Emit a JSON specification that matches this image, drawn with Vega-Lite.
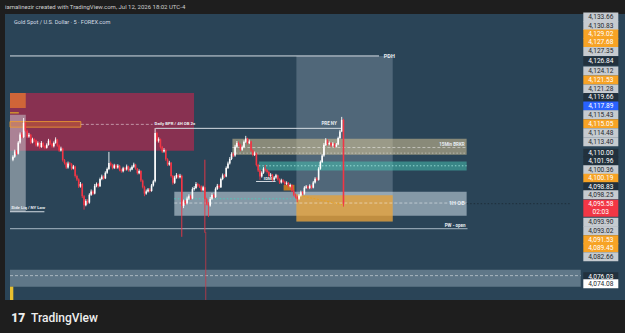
{
  "$schema": "https://vega.github.io/schema/vega-lite/v6.json",
  "width": 620,
  "height": 286,
  "autosize": {"type": "none"},
  "padding": {"left": 5, "top": 14, "right": 0, "bottom": 33},
  "background": "#1e1e1e",
  "title": {"text": "iamalinezir created with TradingView.com, Jul 12, 2026 18:02 UTC-4", "anchor": "start", "fontSize": 6, "font": "Roboto", "fontWeight": "normal", "color": "#cfcfcf", "offset": 3, "frame": "group"},
  "config": {"view": {"fill": "#2a4457", "stroke": null}, "font": "Roboto"},
  "datasets": {
    "boxes": [
      {"k": "band", "i": -1.66, "i2": 319.5, "p": 4073.32, "p2": 4077.88},
      {"k": "pre", "i": 159.5, "i2": 213.7, "p": 4090.83, "p2": 4135.26},
      {"k": "maroon", "i": -1.66, "i2": 101.9, "p": 4109.79, "p2": 4125.34},
      {"k": "lorange", "i": -1.66, "i2": 7.2, "p": 4121.31, "p2": 4125.34},
      {"k": "lgray", "i": -1.66, "i2": 7.2, "p": 4093.43, "p2": 4119.44},
      {"k": "tan", "i": 123.5, "i2": 255.3, "p": 4108.72, "p2": 4113.0},
      {"k": "teal", "i": 138.4, "i2": 255.3, "p": 4104.51, "p2": 4106.92},
      {"k": "ob", "i": 90.8, "i2": 255.3, "p": 4092.36, "p2": 4098.79},
      {"k": "orange", "i": 159.5, "i2": 213.7, "p": 4090.83, "p2": 4097.86},
      {"k": "sorange", "i": 152.3, "i2": 158.4, "p": 4099.14, "p2": 4100.67},
      {"k": "yel", "i": -1.66, "i2": 0.2, "p": 4069.74, "p2": 4073.32}
    ],
    "bpr": [{"i": -1.66, "i2": 38.2, "p": 4116.14, "p2": 4117.64}],
    "lines": [
      {"k": "pdh", "i": -1.66, "i2": 206, "p": 4135.26},
      {"k": "preny", "i": 80.3, "i2": 184.9, "p": 4115.82},
      {"k": "pw", "i": -1.66, "i2": 255.8, "p": 4088.88},
      {"k": "side", "i": -1.66, "i2": 17.7, "p": 4093.43},
      {"k": "idm", "i": 136.8, "i2": 147.8, "p": 4101.56},
      {"k": "yel", "i": -1.66, "i2": 3.3, "p": 4119.98}
    ],
    "dlines": [
      {"k": "tan", "i": 123.5, "i2": 255.3, "p": 4110.67},
      {"k": "ob", "i": 90.8, "i2": 255.3, "p": 4095.77},
      {"k": "bot", "i": -1.66, "i2": 319.5, "p": 4076.28},
      {"k": "bpr", "i": 38.2, "i2": 78.6, "p": 4116.89}
    ],
    "olines": [
      {"k": "tanb", "i": 123.5, "i2": 255.3, "p": 4109.17},
      {"k": "tealm", "i": 138.4, "i2": 255.3, "p": 4105.77},
      {"k": "ext", "i": 255.3, "i2": 313.9, "p": 4095.6},
      {"k": "tealob", "i": 90.8, "i2": 159.5, "p": 4096.92}
    ],
    "diag": [{"i": 159.5, "i2": 185.5, "p": 4097.99, "p2": 4095.31}],
    "vline": [{"i": 108.5, "p": 4088.0, "p2": 4069.74}],
    "bars": [
      {"i":0,"o":4107.4,"h":4108.6,"l":4107.0,"c":4108.2},
      {"i":1,"o":4108.2,"h":4110.1,"l":4107.9,"c":4109.6},
      {"i":2,"o":4109.6,"h":4110.0,"l":4108.6,"c":4109.0},
      {"i":3,"o":4109.0,"h":4112.4,"l":4108.8,"c":4112.0},
      {"i":4,"o":4112.0,"h":4114.7,"l":4111.7,"c":4114.2},
      {"i":5,"o":4114.2,"h":4114.8,"l":4113.1,"c":4113.5},
      {"i":6,"o":4113.5,"h":4118.6,"l":4113.2,"c":4117.3},
      {"i":7,"o":4117.3,"h":4117.6,"l":4114.8,"c":4115.2},
      {"i":8,"o":4115.2,"h":4115.5,"l":4113.2,"c":4113.6},
      {"i":9,"o":4113.6,"h":4114.6,"l":4113.3,"c":4114.1},
      {"i":10,"o":4114.1,"h":4114.3,"l":4111.6,"c":4112.0},
      {"i":11,"o":4112.0,"h":4113.3,"l":4111.8,"c":4112.9},
      {"i":12,"o":4112.9,"h":4113.2,"l":4112.1,"c":4112.6},
      {"i":13,"o":4112.6,"h":4112.8,"l":4110.9,"c":4111.2},
      {"i":14,"o":4111.2,"h":4112.3,"l":4110.9,"c":4111.9},
      {"i":15,"o":4111.9,"h":4112.1,"l":4110.4,"c":4110.8},
      {"i":16,"o":4110.8,"h":4112.4,"l":4110.6,"c":4111.9},
      {"i":17,"o":4111.9,"h":4112.1,"l":4110.7,"c":4111.0},
      {"i":18,"o":4111.0,"h":4111.3,"l":4110.2,"c":4110.6},
      {"i":19,"o":4110.6,"h":4111.8,"l":4110.4,"c":4111.4},
      {"i":20,"o":4111.4,"h":4113.0,"l":4111.2,"c":4112.5},
      {"i":21,"o":4112.5,"h":4112.8,"l":4111.4,"c":4111.7},
      {"i":22,"o":4111.7,"h":4111.9,"l":4110.6,"c":4111.0},
      {"i":23,"o":4111.0,"h":4112.3,"l":4110.7,"c":4111.9},
      {"i":24,"o":4111.9,"h":4113.4,"l":4111.7,"c":4112.8},
      {"i":25,"o":4112.8,"h":4113.0,"l":4110.9,"c":4111.2},
      {"i":26,"o":4111.2,"h":4111.5,"l":4109.5,"c":4109.9},
      {"i":27,"o":4109.9,"h":4110.9,"l":4109.6,"c":4110.4},
      {"i":28,"o":4110.4,"h":4110.6,"l":4106.9,"c":4107.3},
      {"i":29,"o":4107.3,"h":4107.6,"l":4106.1,"c":4106.5},
      {"i":30,"o":4106.5,"h":4106.8,"l":4104.9,"c":4105.3},
      {"i":31,"o":4105.3,"h":4106.9,"l":4105.0,"c":4106.4},
      {"i":32,"o":4106.4,"h":4106.8,"l":4105.8,"c":4106.2},
      {"i":33,"o":4106.2,"h":4106.5,"l":4104.6,"c":4105.0},
      {"i":34,"o":4105.0,"h":4106.0,"l":4104.8,"c":4105.6},
      {"i":35,"o":4105.6,"h":4105.8,"l":4102.6,"c":4103.0},
      {"i":36,"o":4103.0,"h":4103.4,"l":4101.7,"c":4102.1},
      {"i":37,"o":4102.1,"h":4102.4,"l":4099.8,"c":4100.2},
      {"i":38,"o":4100.2,"h":4101.4,"l":4099.9,"c":4100.9},
      {"i":39,"o":4100.9,"h":4101.1,"l":4097.1,"c":4097.6},
      {"i":40,"o":4097.6,"h":4097.9,"l":4094.0,"c":4095.2},
      {"i":41,"o":4095.2,"h":4096.8,"l":4094.9,"c":4096.3},
      {"i":42,"o":4096.3,"h":4096.8,"l":4095.4,"c":4095.9},
      {"i":43,"o":4095.9,"h":4098.4,"l":4095.6,"c":4098.0},
      {"i":44,"o":4098.0,"h":4099.4,"l":4097.7,"c":4098.9},
      {"i":45,"o":4098.9,"h":4099.2,"l":4097.9,"c":4098.3},
      {"i":46,"o":4098.3,"h":4100.9,"l":4098.1,"c":4100.4},
      {"i":47,"o":4100.4,"h":4101.3,"l":4100.0,"c":4100.9},
      {"i":48,"o":4100.9,"h":4101.2,"l":4099.9,"c":4100.3},
      {"i":49,"o":4100.3,"h":4102.6,"l":4100.1,"c":4102.2},
      {"i":50,"o":4102.2,"h":4103.4,"l":4101.9,"c":4102.9},
      {"i":51,"o":4102.9,"h":4103.2,"l":4102.0,"c":4102.4},
      {"i":52,"o":4102.4,"h":4104.3,"l":4102.2,"c":4103.9},
      {"i":53,"o":4103.9,"h":4105.3,"l":4103.6,"c":4104.9},
      {"i":54,"o":4104.9,"h":4109.5,"l":4104.6,"c":4106.5},
      {"i":55,"o":4106.5,"h":4106.9,"l":4105.6,"c":4106.0},
      {"i":56,"o":4106.0,"h":4106.3,"l":4104.8,"c":4105.2},
      {"i":57,"o":4105.2,"h":4106.3,"l":4104.9,"c":4105.9},
      {"i":58,"o":4105.9,"h":4106.2,"l":4104.9,"c":4105.3},
      {"i":59,"o":4105.3,"h":4106.2,"l":4105.0,"c":4105.8},
      {"i":60,"o":4105.8,"h":4106.0,"l":4104.3,"c":4104.7},
      {"i":61,"o":4104.7,"h":4105.0,"l":4103.9,"c":4104.3},
      {"i":62,"o":4104.3,"h":4105.5,"l":4104.0,"c":4105.1},
      {"i":63,"o":4105.1,"h":4105.4,"l":4104.4,"c":4104.8},
      {"i":64,"o":4104.8,"h":4106.1,"l":4104.5,"c":4105.6},
      {"i":65,"o":4105.6,"h":4105.8,"l":4104.2,"c":4104.6},
      {"i":66,"o":4104.6,"h":4105.3,"l":4104.2,"c":4104.8},
      {"i":67,"o":4104.8,"h":4105.9,"l":4104.6,"c":4105.5},
      {"i":68,"o":4105.5,"h":4106.6,"l":4105.2,"c":4106.1},
      {"i":69,"o":4106.1,"h":4106.3,"l":4104.7,"c":4105.0},
      {"i":70,"o":4105.0,"h":4105.2,"l":4103.4,"c":4103.8},
      {"i":71,"o":4103.8,"h":4104.8,"l":4103.5,"c":4104.4},
      {"i":72,"o":4104.4,"h":4104.6,"l":4101.4,"c":4101.8},
      {"i":73,"o":4101.8,"h":4102.1,"l":4099.7,"c":4100.1},
      {"i":74,"o":4100.1,"h":4100.4,"l":4097.6,"c":4098.3},
      {"i":75,"o":4098.3,"h":4099.4,"l":4098.0,"c":4098.9},
      {"i":76,"o":4098.9,"h":4099.8,"l":4098.6,"c":4099.4},
      {"i":77,"o":4099.4,"h":4099.8,"l":4098.6,"c":4099.0},
      {"i":78,"o":4099.0,"h":4100.9,"l":4098.8,"c":4100.5},
      {"i":79,"o":4100.5,"h":4102.0,"l":4100.2,"c":4101.6},
      {"i":80,"o":4101.6,"h":4115.9,"l":4101.3,"c":4114.6},
      {"i":81,"o":4114.6,"h":4114.9,"l":4112.1,"c":4112.5},
      {"i":82,"o":4112.5,"h":4113.4,"l":4112.0,"c":4112.9},
      {"i":83,"o":4112.9,"h":4113.1,"l":4110.4,"c":4110.8},
      {"i":84,"o":4110.8,"h":4111.1,"l":4109.2,"c":4109.6},
      {"i":85,"o":4109.6,"h":4110.5,"l":4109.3,"c":4110.0},
      {"i":86,"o":4110.0,"h":4110.2,"l":4107.1,"c":4107.5},
      {"i":87,"o":4107.5,"h":4107.8,"l":4105.7,"c":4106.1},
      {"i":88,"o":4106.1,"h":4107.1,"l":4105.8,"c":4106.6},
      {"i":89,"o":4106.6,"h":4106.8,"l":4102.6,"c":4103.0},
      {"i":90,"o":4103.0,"h":4103.3,"l":4100.7,"c":4101.2},
      {"i":91,"o":4101.2,"h":4103.1,"l":4100.9,"c":4102.6},
      {"i":92,"o":4102.6,"h":4103.8,"l":4102.3,"c":4103.3},
      {"i":93,"o":4103.3,"h":4103.6,"l":4102.3,"c":4102.7},
      {"i":94,"o":4102.7,"h":4103.6,"l":4102.4,"c":4103.1},
      {"i":95,"o":4103.1,"h":4103.4,"l":4086.7,"c":4095.0},
      {"i":96,"o":4095.0,"h":4096.7,"l":4094.4,"c":4096.2},
      {"i":97,"o":4096.2,"h":4096.6,"l":4095.2,"c":4095.7},
      {"i":98,"o":4095.7,"h":4097.5,"l":4095.4,"c":4097.0},
      {"i":99,"o":4097.0,"h":4098.1,"l":4096.6,"c":4097.6},
      {"i":100,"o":4097.6,"h":4098.0,"l":4096.6,"c":4097.0},
      {"i":101,"o":4097.0,"h":4100.0,"l":4096.8,"c":4099.5},
      {"i":102,"o":4099.5,"h":4100.3,"l":4099.1,"c":4099.8},
      {"i":103,"o":4099.8,"h":4101.4,"l":4099.5,"c":4100.9},
      {"i":104,"o":4100.9,"h":4101.2,"l":4100.0,"c":4100.4},
      {"i":105,"o":4100.4,"h":4100.8,"l":4099.8,"c":4100.2},
      {"i":106,"o":4100.2,"h":4100.5,"l":4098.8,"c":4099.2},
      {"i":107,"o":4099.2,"h":4100.4,"l":4098.9,"c":4100.0},
      {"i":108,"o":4100.0,"h":4107.4,"l":4087.8,"c":4096.8},
      {"i":109,"o":4096.8,"h":4097.2,"l":4095.2,"c":4095.6},
      {"i":110,"o":4095.6,"h":4096.0,"l":4092.0,"c":4095.1},
      {"i":111,"o":4095.1,"h":4097.4,"l":4094.8,"c":4096.9},
      {"i":112,"o":4096.9,"h":4098.4,"l":4096.6,"c":4097.9},
      {"i":113,"o":4097.9,"h":4098.3,"l":4097.0,"c":4097.4},
      {"i":114,"o":4097.4,"h":4100.0,"l":4097.1,"c":4099.6},
      {"i":115,"o":4099.6,"h":4100.9,"l":4099.3,"c":4100.4},
      {"i":116,"o":4100.4,"h":4100.8,"l":4099.6,"c":4100.0},
      {"i":117,"o":4100.0,"h":4102.6,"l":4099.8,"c":4102.2},
      {"i":118,"o":4102.2,"h":4103.7,"l":4101.9,"c":4103.2},
      {"i":119,"o":4103.2,"h":4103.6,"l":4102.5,"c":4102.9},
      {"i":120,"o":4102.9,"h":4105.6,"l":4102.7,"c":4105.2},
      {"i":121,"o":4105.2,"h":4106.9,"l":4104.9,"c":4106.4},
      {"i":122,"o":4106.4,"h":4108.1,"l":4106.1,"c":4107.6},
      {"i":123,"o":4107.6,"h":4109.4,"l":4107.3,"c":4108.9},
      {"i":124,"o":4108.9,"h":4109.3,"l":4108.1,"c":4108.5},
      {"i":125,"o":4108.5,"h":4111.4,"l":4108.2,"c":4110.9},
      {"i":126,"o":4110.9,"h":4112.4,"l":4110.6,"c":4111.9},
      {"i":127,"o":4111.9,"h":4112.3,"l":4111.0,"c":4111.4},
      {"i":128,"o":4111.4,"h":4111.7,"l":4109.7,"c":4110.1},
      {"i":129,"o":4110.1,"h":4111.2,"l":4109.8,"c":4110.8},
      {"i":130,"o":4110.8,"h":4112.6,"l":4110.5,"c":4112.2},
      {"i":131,"o":4112.2,"h":4113.8,"l":4111.9,"c":4113.1},
      {"i":132,"o":4113.1,"h":4113.3,"l":4111.5,"c":4111.9},
      {"i":133,"o":4111.9,"h":4112.8,"l":4111.6,"c":4112.3},
      {"i":134,"o":4112.3,"h":4112.5,"l":4109.5,"c":4109.9},
      {"i":135,"o":4109.9,"h":4110.2,"l":4108.3,"c":4108.7},
      {"i":136,"o":4108.7,"h":4109.6,"l":4108.4,"c":4109.1},
      {"i":137,"o":4109.1,"h":4109.3,"l":4105.6,"c":4106.0},
      {"i":138,"o":4106.0,"h":4106.3,"l":4104.1,"c":4104.5},
      {"i":139,"o":4104.5,"h":4104.8,"l":4102.0,"c":4102.9},
      {"i":140,"o":4102.9,"h":4104.3,"l":4102.6,"c":4103.9},
      {"i":141,"o":4103.9,"h":4105.4,"l":4103.6,"c":4105.0},
      {"i":142,"o":4105.0,"h":4106.0,"l":4104.2,"c":4104.6},
      {"i":143,"o":4104.6,"h":4104.9,"l":4103.7,"c":4104.1},
      {"i":144,"o":4104.1,"h":4104.4,"l":4102.6,"c":4103.0},
      {"i":145,"o":4103.0,"h":4103.8,"l":4102.7,"c":4103.4},
      {"i":146,"o":4103.4,"h":4103.6,"l":4101.6,"c":4102.0},
      {"i":147,"o":4102.0,"h":4103.0,"l":4101.7,"c":4102.6},
      {"i":148,"o":4102.6,"h":4103.6,"l":4102.3,"c":4103.2},
      {"i":149,"o":4103.2,"h":4103.4,"l":4101.8,"c":4102.1},
      {"i":150,"o":4102.1,"h":4102.4,"l":4100.9,"c":4101.3},
      {"i":151,"o":4101.3,"h":4102.3,"l":4101.0,"c":4101.9},
      {"i":152,"o":4101.9,"h":4102.2,"l":4101.1,"c":4101.5},
      {"i":153,"o":4101.5,"h":4101.8,"l":4100.5,"c":4100.9},
      {"i":154,"o":4100.9,"h":4101.6,"l":4100.6,"c":4101.2},
      {"i":155,"o":4101.2,"h":4101.4,"l":4099.9,"c":4100.3},
      {"i":156,"o":4100.3,"h":4101.0,"l":4100.0,"c":4100.6},
      {"i":157,"o":4100.6,"h":4100.8,"l":4098.7,"c":4099.1},
      {"i":158,"o":4099.1,"h":4099.4,"l":4097.6,"c":4098.0},
      {"i":159,"o":4098.0,"h":4098.3,"l":4097.0,"c":4097.4},
      {"i":160,"o":4097.4,"h":4097.7,"l":4096.0,"c":4096.9},
      {"i":161,"o":4096.9,"h":4098.2,"l":4096.6,"c":4097.8},
      {"i":162,"o":4097.8,"h":4099.1,"l":4097.5,"c":4098.7},
      {"i":163,"o":4098.7,"h":4099.0,"l":4097.9,"c":4098.3},
      {"i":164,"o":4098.3,"h":4100.3,"l":4098.0,"c":4099.9},
      {"i":165,"o":4099.9,"h":4100.6,"l":4099.6,"c":4100.2},
      {"i":166,"o":4100.2,"h":4100.5,"l":4099.4,"c":4099.8},
      {"i":167,"o":4099.8,"h":4100.8,"l":4099.5,"c":4100.4},
      {"i":168,"o":4100.4,"h":4100.7,"l":4099.5,"c":4099.9},
      {"i":169,"o":4099.9,"h":4101.7,"l":4099.7,"c":4101.3},
      {"i":170,"o":4101.3,"h":4102.7,"l":4101.0,"c":4102.3},
      {"i":171,"o":4102.3,"h":4102.7,"l":4101.6,"c":4102.0},
      {"i":172,"o":4102.0,"h":4105.4,"l":4101.8,"c":4105.0},
      {"i":173,"o":4105.0,"h":4107.2,"l":4104.7,"c":4106.8},
      {"i":174,"o":4106.8,"h":4108.9,"l":4106.5,"c":4108.5},
      {"i":175,"o":4108.5,"h":4111.9,"l":4108.2,"c":4111.4},
      {"i":176,"o":4111.4,"h":4113.2,"l":4111.1,"c":4112.6},
      {"i":177,"o":4112.6,"h":4112.9,"l":4111.2,"c":4111.6},
      {"i":178,"o":4111.6,"h":4112.3,"l":4111.3,"c":4111.9},
      {"i":179,"o":4111.9,"h":4112.1,"l":4110.8,"c":4111.2},
      {"i":180,"o":4111.2,"h":4112.1,"l":4110.9,"c":4111.7},
      {"i":181,"o":4111.7,"h":4111.9,"l":4110.6,"c":4110.9},
      {"i":182,"o":4110.9,"h":4111.9,"l":4110.7,"c":4111.5},
      {"i":183,"o":4111.5,"h":4113.6,"l":4111.3,"c":4113.2},
      {"i":184,"o":4113.2,"h":4115.4,"l":4113.0,"c":4115.0},
      {"i":185,"o":4115.0,"h":4118.9,"l":4114.8,"c":4118.1},
      {"i":186,"o":4118.1,"h":4118.4,"l":4094.8,"c":4095.58}
    ],
    "notesL": [
      {"t": "Daily BPR / 4H OB 2x", "i": 79.7, "p": 4117.0},
      {"t": "Side Liq / NY Low", "i": -0.9, "p": 4094.5},
      {"t": "IDM", "i": 141.2, "p": 4102.3},
      {"t": "PDH", "i": 208.7, "p": 4135.3}
    ],
    "notesR": [
      {"t": "PRE NY", "i": 182.2, "p": 4117.0},
      {"t": "15Min BRKR", "i": 254.2, "p": 4111.4},
      {"t": "1H OB", "i": 254.2, "p": 4095.85},
      {"t": "PW - open", "i": 254.7, "p": 4089.7}
    ],
    "hdr": [{"t": "Gold Spot / U.S. Dollar · 5 · FOREX.com", "i": 0.55, "p": 4144.4}],
    "logo": [{"t": "17", "i": -1.0, "p": 4065.0}],
    "brand": [{"t": "TradingView", "i": 10.2, "p": 4065.0}],
    "labels": [
      {"t": "4,133.66", "lvl": 4145.71, "k": "g"},
      {"t": "4,130.83", "lvl": 4143.43, "k": "g"},
      {"t": "4,129.02", "lvl": 4141.15, "k": "o"},
      {"t": "4,127.68", "lvl": 4138.88, "k": "o"},
      {"t": "4,127.35", "lvl": 4136.46, "k": "g"},
      {"t": "4,126.84", "lvl": 4133.92, "k": "d"},
      {"t": "4,124.12", "lvl": 4131.23, "k": "g"},
      {"t": "4,121.53", "lvl": 4128.82, "k": "o"},
      {"t": "4,121.28", "lvl": 4126.41, "k": "g"},
      {"t": "4,119.66", "lvl": 4124.13, "k": "d"},
      {"t": "4,117.89", "lvl": 4121.85, "k": "b"},
      {"t": "4,115.43", "lvl": 4119.44, "k": "g"},
      {"t": "4,115.05", "lvl": 4117.03, "k": "o"},
      {"t": "4,114.48", "lvl": 4114.61, "k": "g"},
      {"t": "4,113.40", "lvl": 4112.2, "k": "g"},
      {"t": "4,110.00", "lvl": 4109.12, "k": "d"},
      {"t": "4,101.96", "lvl": 4107.11, "k": "d"},
      {"t": "4,100.36", "lvl": 4104.69, "k": "g"},
      {"t": "4,100.19", "lvl": 4102.41, "k": "o"},
      {"t": "4,098.83", "lvl": 4100.13, "k": "d"},
      {"t": "4,098.25", "lvl": 4097.99, "k": "g"},
      {"t": "4,095.58", "lvl": 4095.44, "k": "r"},
      {"t": "02:03", "lvl": 4093.33, "k": "r"},
      {"t": "4,093.90", "lvl": 4090.62, "k": "g"},
      {"t": "4,093.02", "lvl": 4088.34, "k": "g"},
      {"t": "4,091.53", "lvl": 4085.92, "k": "o"},
      {"t": "4,089.45", "lvl": 4083.78, "k": "o"},
      {"t": "4,082.66", "lvl": 4081.37, "k": "g"},
      {"t": "4,076.03", "lvl": 4076.01, "k": "d"},
      {"t": "4,074.08", "lvl": 4074.13, "k": "w"}
    ],
    "redbox": [{"lvl": 4094.37}]
  },
  "layer": [
    {
      "encoding": {
        "x": {
          "field": "i", "type": "quantitative",
          "scale": {"domain": [-1.66, 341.6], "nice": false, "zero": false},
          "axis": {
            "values": [2, 18, 36, 54, 72, 90, 108, 126, 144, 162, 186, 204, 222, 240, 258, 276, 294, 317],
            "labelExpr": "datum.value == 2 ? '30' : datum.value == 18 ? '03:00' : datum.value == 36 ? '04:30' : datum.value == 54 ? '06:00' : datum.value == 72 ? '07:30' : datum.value == 90 ? '09:00' : datum.value == 108 ? '10:30' : datum.value == 126 ? '12:00' : datum.value == 144 ? '13:30' : datum.value == 162 ? '15:00' : datum.value == 186 ? '12' : datum.value == 204 ? '19:30' : datum.value == 222 ? '21:00' : datum.value == 240 ? '22:30' : datum.value == 258 ? '13' : datum.value == 276 ? '01:30' : datum.value == 294 ? '03:00' : '05:'",
            "offset": -13, "domain": false, "ticks": false, "grid": false,
            "labelColor": "#dde3e9", "labelFontSize": 6.2, "labelFont": "Roboto",
            "labelPadding": 3, "labelOverlap": false, "labelFlush": false, "title": null
          }
        }
      },
      "layer": [
        {
          "data": {"name": "boxes"},
          "mark": {"type": "rect"},
          "encoding": {
            "x2": {"field": "i2"},
            "y": {"field": "p", "type": "quantitative", "scale": {"domain": [4069.74, 4146.52], "nice": false, "zero": false}, "axis": null},
            "y2": {"field": "p2"},
            "fill": {"condition": [
              {"test": "datum.k==='band'", "value": "rgba(170,190,205,0.42)"},
              {"test": "datum.k==='pre'", "value": "rgba(205,218,228,0.24)"},
              {"test": "datum.k==='maroon'", "value": "rgba(158,45,80,0.82)"},
              {"test": "datum.k==='lorange'", "value": "rgba(225,115,50,0.8)"},
              {"test": "datum.k==='lgray'", "value": "rgba(205,212,218,0.5)"},
              {"test": "datum.k==='tan'", "value": "rgba(215,196,150,0.55)"},
              {"test": "datum.k==='teal'", "value": "rgba(70,190,175,0.55)"},
              {"test": "datum.k==='ob'", "value": "rgba(195,210,220,0.6)"},
              {"test": "datum.k==='orange'", "value": "rgba(240,160,40,0.7)"},
              {"test": "datum.k==='sorange'", "value": "rgba(205,125,30,0.9)"}
            ], "value": "#e8c030"}
          }
        },
        {
          "data": {"name": "bpr"},
          "mark": {"type": "rect", "fill": "rgba(230,120,40,0.35)", "stroke": "#f0a030", "strokeWidth": 0.8},
          "encoding": {
            "x2": {"field": "i2"},
            "y": {"field": "p", "type": "quantitative", "scale": {"domain": [4069.74, 4146.52], "nice": false, "zero": false}, "axis": null},
            "y2": {"field": "p2"}
          }
        },
        {
          "data": {"name": "lines"},
          "mark": {"type": "rule", "strokeWidth": 1},
          "encoding": {
            "x2": {"field": "i2"},
            "y": {"field": "p", "type": "quantitative", "scale": {"domain": [4069.74, 4146.52], "nice": false, "zero": false}, "axis": null},
            "color": {"condition": [
              {"test": "datum.k==='pw'", "value": "#a9b8c4"},
              {"test": "datum.k==='yel'", "value": "#f0c020"}
            ], "value": "#d5dce3"}
          }
        },
        {
          "data": {"name": "dlines"},
          "mark": {"type": "rule", "strokeWidth": 0.8, "strokeDash": [3, 2], "color": "rgba(255,255,255,0.6)"},
          "encoding": {
            "x2": {"field": "i2"},
            "y": {"field": "p", "type": "quantitative", "scale": {"domain": [4069.74, 4146.52], "nice": false, "zero": false}, "axis": null}
          }
        },
        {
          "data": {"name": "olines"},
          "mark": {"type": "rule", "strokeWidth": 0.8, "strokeDash": [1.5, 2]},
          "encoding": {
            "x2": {"field": "i2"},
            "y": {"field": "p", "type": "quantitative", "scale": {"domain": [4069.74, 4146.52], "nice": false, "zero": false}, "axis": null},
            "color": {"condition": [
              {"test": "datum.k==='tealm'", "value": "#a8ece4"},
              {"test": "datum.k==='ext'", "value": "#1a2833"},
              {"test": "datum.k==='tealob'", "value": "#3fd3c3"}
            ], "value": "rgba(255,255,255,0.5)"}
          }
        },
        {
          "data": {"name": "diag"},
          "mark": {"type": "rule", "strokeWidth": 0.9, "strokeDash": [2, 1.5], "color": "#e8a020"},
          "encoding": {
            "x2": {"field": "i2"},
            "y": {"field": "p", "type": "quantitative", "scale": {"domain": [4069.74, 4146.52], "nice": false, "zero": false}, "axis": null},
            "y2": {"field": "p2"}
          }
        },
        {
          "data": {"name": "vline"},
          "mark": {"type": "rule", "strokeWidth": 0.8, "color": "#c83848"},
          "encoding": {
            "y": {"field": "p", "type": "quantitative", "scale": {"domain": [4069.74, 4146.52], "nice": false, "zero": false}, "axis": null},
            "y2": {"field": "p2"}
          }
        },
        {
          "data": {"name": "bars"},
          "mark": {"type": "rule", "strokeWidth": 0.9},
          "encoding": {
            "y": {"field": "l", "type": "quantitative", "scale": {"domain": [4069.74, 4146.52], "nice": false, "zero": false}, "axis": null},
            "y2": {"field": "h"},
            "color": {"condition": {"test": "datum.c >= datum.o", "value": "#ffffff"}, "value": "#f23645"}
          }
        },
        {
          "data": {"name": "bars"},
          "mark": {"type": "bar", "size": 1.6},
          "encoding": {
            "y": {"field": "o", "type": "quantitative", "scale": {"domain": [4069.74, 4146.52], "nice": false, "zero": false}, "axis": null},
            "y2": {"field": "c"},
            "color": {"condition": {"test": "datum.c >= datum.o", "value": "#ffffff"}, "value": "#f23645"}
          }
        },
        {
          "data": {"name": "notesL"},
          "mark": {"type": "text", "align": "left", "baseline": "middle", "fontWeight": "bold", "font": "Roboto", "color": "#e8edf2"},
          "encoding": {
            "y": {"field": "p", "type": "quantitative", "scale": {"domain": [4069.74, 4146.52], "nice": false, "zero": false}, "axis": null},
            "text": {"field": "t"},
            "size": {"condition": {"test": "datum.t==='PDH'", "value": 5.5}, "value": 4.3}
          }
        },
        {
          "data": {"name": "notesR"},
          "mark": {"type": "text", "align": "right", "baseline": "middle", "fontWeight": "bold", "font": "Roboto", "color": "#e8edf2"},
          "encoding": {
            "y": {"field": "p", "type": "quantitative", "scale": {"domain": [4069.74, 4146.52], "nice": false, "zero": false}, "axis": null},
            "text": {"field": "t"},
            "size": {"condition": {"test": "datum.t==='1H OB'", "value": 5.5}, "value": 4.5}
          }
        },
        {
          "data": {"name": "hdr"},
          "mark": {"type": "text", "align": "left", "baseline": "middle", "fontSize": 5.6, "font": "Roboto", "color": "#d6dde4"},
          "encoding": {
            "y": {"field": "p", "type": "quantitative", "scale": {"domain": [4069.74, 4146.52], "nice": false, "zero": false}, "axis": null},
            "text": {"field": "t"}
          }
        },
        {
          "data": {"name": "logo"},
          "mark": {"type": "text", "align": "left", "baseline": "middle", "fontSize": 12, "fontWeight": 900, "font": "Roboto", "color": "#eeeeee"},
          "encoding": {
            "y": {"field": "p", "type": "quantitative", "scale": {"domain": [4069.74, 4146.52], "nice": false, "zero": false}, "axis": null},
            "text": {"field": "t"}
          }
        },
        {
          "data": {"name": "brand"},
          "mark": {"type": "text", "align": "left", "baseline": "middle", "fontSize": 12, "fontWeight": 500, "font": "Roboto", "color": "#eeeeee"},
          "encoding": {
            "y": {"field": "p", "type": "quantitative", "scale": {"domain": [4069.74, 4146.52], "nice": false, "zero": false}, "axis": null},
            "text": {"field": "t"}
          }
        }
      ]
    },
    {
      "layer": [
        {
          "data": {"name": "labels"},
          "transform": [{"filter": "datum.k !== 'r'"}],
          "mark": {"type": "point", "shape": "M-1.75,-0.45H1.75V0.45H-1.75Z", "size": 400, "filled": true, "opacity": 1, "strokeWidth": 0},
          "encoding": {
            "x": {"datum": 330.8, "type": "quantitative", "scale": {"domain": [-1.66, 341.6], "nice": false, "zero": false}, "axis": null},
            "y": {"field": "lvl", "type": "quantitative", "scale": {"domain": [4069.74, 4146.52], "nice": false, "zero": false}, "axis": null},
            "fill": {"condition": [
              {"test": "datum.k==='o'", "value": "#f7a325"},
              {"test": "datum.k==='d'", "value": "#22313d"},
              {"test": "datum.k==='b'", "value": "#2962ff"},
              {"test": "datum.k==='w'", "value": "#ffffff"}
            ], "value": "#c6cbd0"}
          }
        },
        {
          "data": {"name": "redbox"},
          "mark": {"type": "point", "shape": "M-1.75,-0.85H1.75V0.85H-1.75Z", "size": 400, "filled": true, "opacity": 1, "strokeWidth": 0, "color": "#f23645"},
          "encoding": {
            "x": {"datum": 330.8, "type": "quantitative", "scale": {"domain": [-1.66, 341.6], "nice": false, "zero": false}, "axis": null},
            "y": {"field": "lvl", "type": "quantitative", "scale": {"domain": [4069.74, 4146.52], "nice": false, "zero": false}, "axis": null}
          }
        },
        {
          "data": {"name": "labels"},
          "mark": {"type": "text", "align": "center", "baseline": "middle", "fontSize": 6.6, "font": "Roboto"},
          "encoding": {
            "x": {"datum": 330.8, "type": "quantitative", "scale": {"domain": [-1.66, 341.6], "nice": false, "zero": false}, "axis": null},
            "y": {"field": "lvl", "type": "quantitative", "scale": {"domain": [4069.74, 4146.52], "nice": false, "zero": false}, "axis": null},
            "text": {"field": "t"},
            "color": {"condition": [
              {"test": "datum.k==='o' || datum.k==='d' || datum.k==='b' || datum.k==='r'", "value": "#ffffff"}
            ], "value": "#262a2f"}
          }
        }
      ]
    }
  ]
}
